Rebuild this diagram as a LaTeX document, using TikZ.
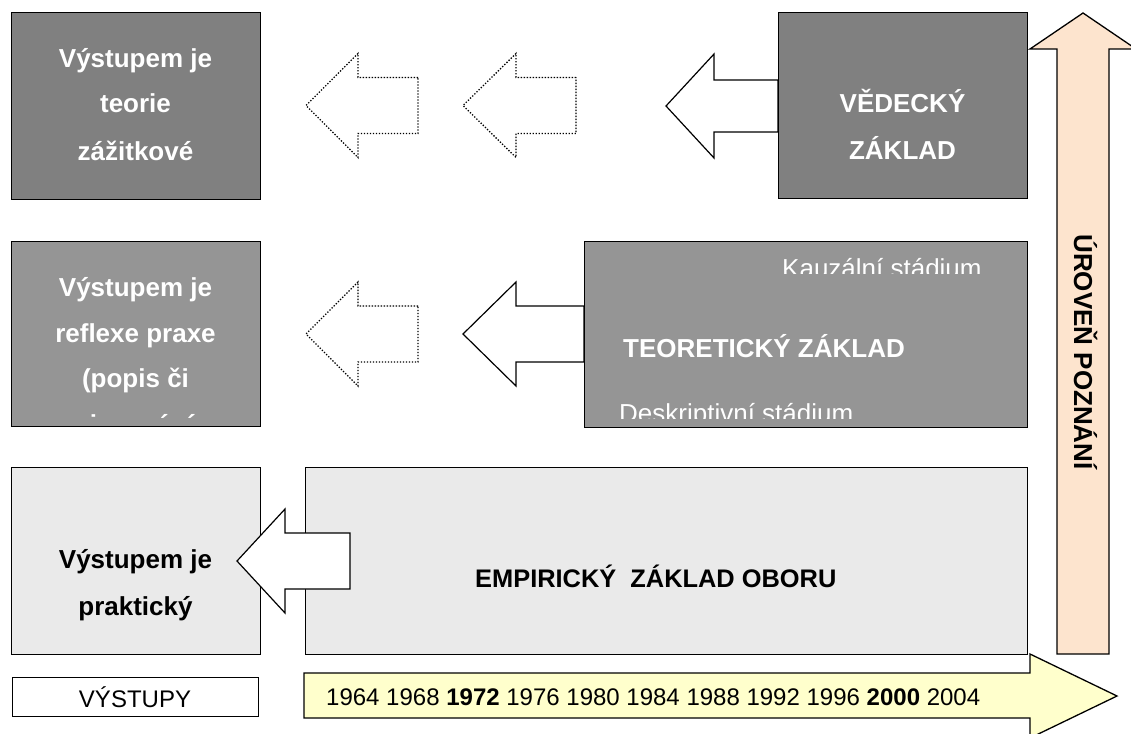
\documentclass[tikz,border=0pt]{standalone}
\usepackage{fontspec}
\setmainfont{Liberation Sans}
\definecolor{darkbox}{RGB}{128,128,128}
\definecolor{midbox}{RGB}{149,149,149}
\definecolor{lightbox}{RGB}{234,234,234}
\definecolor{peach}{RGB}{253,228,206}
\definecolor{paleyellow}{RGB}{255,255,204}
% left-pointing block arrow: style, tip x, neck x, tail x, centre y, half shaft
\newcommand{\blockarrowL}[6]{%
  \draw[#1] (#4,{#5-#6}) -- (#3,{#5-#6}) -- (#3,{#5-52}) -- (#2,#5)
    -- (#3,{#5+52}) -- (#3,{#5+#6}) -- (#4,{#5+#6}) -- cycle;}
\begin{document}
\begin{tikzpicture}[x=1pt,y=-1pt,
  box/.style={draw=black, line width=1.3pt, inner sep=0pt, anchor=north west},
  big/.style={font=\fontsize{26}{30}\selectfont},
  bigbold/.style={font=\fontsize{26}{30}\selectfont\bfseries},
  small/.style={font=\fontsize{24}{28}\selectfont},
  txt/.style={inner sep=0pt, anchor=base},
  solidarrow/.style={draw=black, fill=white, line width=1.2pt, line join=miter},
  dotarrow/.style={draw=black, line width=1.3pt, dash pattern=on 1.3pt off 1.7pt}]
\useasboundingbox (0,0) rectangle (1131,733);
\clip (0,0) rectangle (1131,733);

% level-of-knowledge arrow (upwards) and timeline arrow (rightwards)
\draw[fill=peach, line width=1.3pt, line join=miter]
  (1057,654) -- (1057,49) -- (1030,49) -- (1083,13) -- (1136,49)
  -- (1109,49) -- (1109,654) -- cycle;
\node[txt, bigbold, rotate=-90] (level) at (1074,352) {ÚROVEŇ POZNÁNÍ};

\draw[fill=paleyellow, line width=1.3pt, line join=miter]
  (304,673) -- (1030,673) -- (1030,654) -- (1117,696) -- (1030,738)
  -- (1030,718) -- (304,718) -- cycle;
\node[txt, small, anchor=base west] (years) at (326,705)
  {1964 1968 \textbf{1972} 1976 1980 1984 1988 1992 1996 \textbf{2000} 2004};

% outputs label
\node[box, fill=white, minimum width=246pt, minimum height=39pt] (out) at (12,677) {};
\node[txt, small] (outlbl) at (135,707) {VÝSTUPY};

% arrows between the upper rows
\blockarrowL{dotarrow}{306}{358}{418}{105.5}{28}
\blockarrowL{dotarrow}{463}{516}{576}{105.5}{28}
\blockarrowL{solidarrow}{666}{714}{778}{106}{26}
\blockarrowL{dotarrow}{306}{358}{418}{334}{28}
\blockarrowL{solidarrow}{463}{516}{584}{334}{28}

% row 1: scientific base
\node[box, fill=darkbox, minimum width=249pt, minimum height=187pt] (out1) at (11,12) {};
\node[txt, bigbold, text=white] at (135.5,68) {Výstupem je};
\node[txt, bigbold, text=white] at (135.5,113) {teorie};
\node[txt, bigbold, text=white] at (135.5,160) {zážitkové};

\node[box, fill=darkbox, minimum width=249pt, minimum height=186pt] (sci) at (778,12) {};
\node[txt, bigbold, text=white] at (902.5,113) {VĚDECKÝ};
\node[txt, bigbold, text=white] at (902.5,159) {ZÁKLAD};

% row 2: theoretical base
\node[box, fill=midbox, minimum width=249pt, minimum height=185pt] (out2) at (11,241) {};
\begin{scope}
  \clip (12,242) rectangle (259,418.5);
  \node[txt, bigbold, text=white] at (135.5,296) {Výstupem je};
  \node[txt, bigbold, text=white] at (135.5,342) {reflexe praxe};
  \node[txt, bigbold, text=white] at (135.5,387) {(popis či};
  \node[txt, bigbold, text=white] at (135.5,433.5) {zjevování};
\end{scope}

\node[box, fill=midbox, minimum width=443pt, minimum height=186pt] (theo) at (584,241) {};
\begin{scope}
  \clip (585,242) rectangle (1026,273);
  \node[txt, big, text=white, anchor=base west] at (782,277) {Kauzální stádium};
\end{scope}
\node[txt, bigbold, text=white, anchor=base west] at (623,357) {TEORETICKÝ ZÁKLAD};
\begin{scope}
  \clip (585,380) rectangle (1026,418);
  \node[txt, big, text=white, anchor=base west] at (619,422) {Deskriptivní stádium};
\end{scope}

% row 3: empirical base
\node[box, fill=lightbox, minimum width=249pt, minimum height=187pt] (out3) at (11,467) {};
\node[txt, bigbold] at (135.5,568) {Výstupem je};
\node[txt, bigbold] at (135.5,615) {praktický};
\node[box, fill=lightbox, minimum width=722pt, minimum height=187pt] (emp) at (305,467) {};
\node[txt, anchor=base west, font=\fontsize{25.4}{30}\selectfont\bfseries] at (475,587) {EMPIRICKÝ~~ZÁKLAD OBORU};
\blockarrowL{solidarrow}{237}{285}{350}{561}{28}
\end{tikzpicture}
\end{document}
